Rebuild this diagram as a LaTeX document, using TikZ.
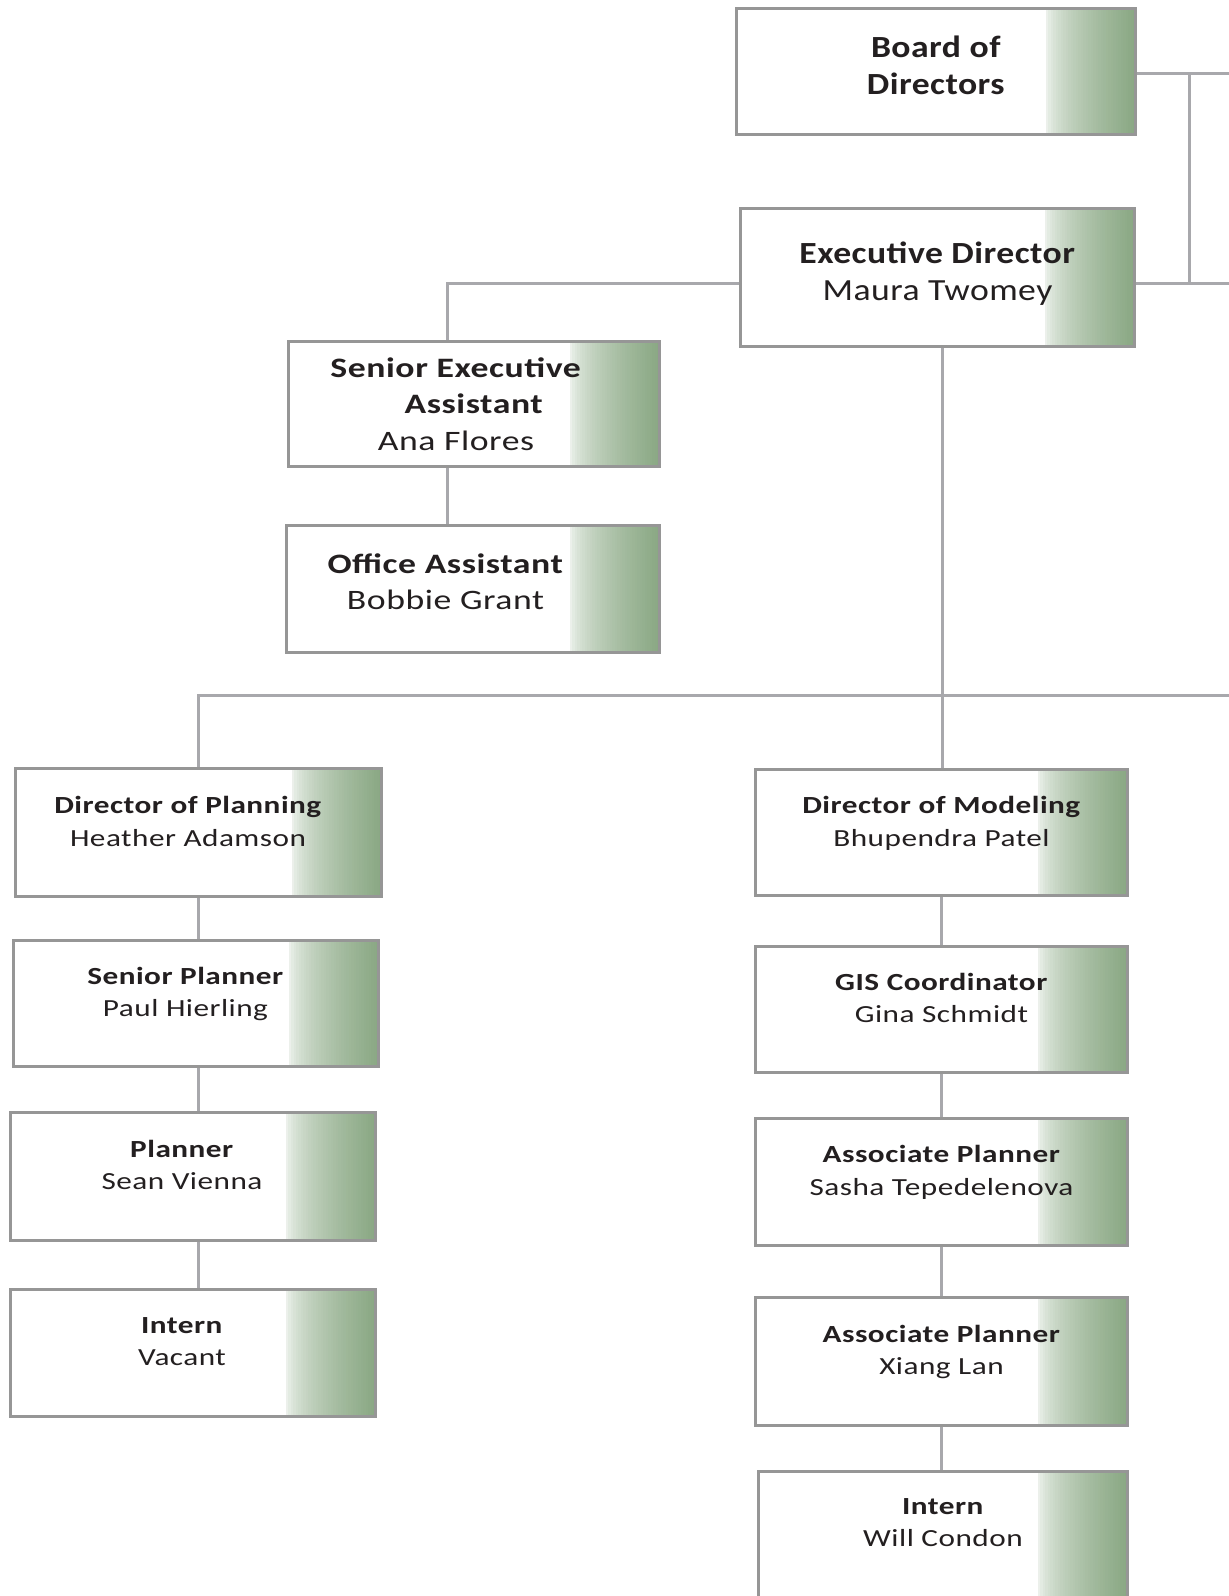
\documentclass[tikz,border=0pt]{standalone}
\usepackage{fontspec}
\setmainfont{Carlito}
\newfontfamily\widefont{Carlito}[FakeStretch=1.27,LetterSpace=2]
\newfontfamily\topfont{Carlito}[FakeStretch=1.16,LetterSpace=1.5]
\definecolor{boxgray}{RGB}{150,150,150}
\definecolor{linegray}{RGB}{168,168,172}
\definecolor{boxgreen}{RGB}{138,168,132}
\definecolor{inkgray}{RGB}{35,31,32}

\begin{document}
\begin{tikzpicture}[x=0.02cm,y=-0.02cm]
    \tikzstyle{post}=[draw=boxgray, line width=0.06cm, fill=white, align=center,
      text=inkgray, inner sep=0pt,
      path picture={
        \foreach \i [evaluate=\i as \p using {100*sqrt(\i/36)}] in {0,...,36}
          \fill[boxgreen!\p!white]
            ([xshift={(\i-37)*0.05cm}]path picture bounding box.north east)
            rectangle ([xshift={(\i-35.8)*0.05cm}]path picture bounding box.south east);}]
    \tikzstyle{top}=[post, font=\topfont\fontsize{17.5}{21.5}\selectfont, text depth=0.25cm]
    \tikzstyle{mid}=[post, font=\widefont\fontsize{16}{20.7}\selectfont]
    \tikzstyle{low}=[post, font=\widefont\fontsize{14}{18.4}\selectfont, text depth=0.45cm]
    \tikzstyle{link}=[draw=linegray, line width=0.06cm]
    \useasboundingbox (0,0) rectangle (1228,1596);

    % top of the chart
    \node[top, minimum width=8cm, minimum height=2.54cm] (board) at (936,71.5)
      {\textbf{Board of}\\\textbf{Directors}};
    \node[top, minimum width=7.9cm, minimum height=2.78cm] (exec) at (937.5,277.5)
      {\textbf{Executive Director}\\Maura Twomey};
    \node[mid, minimum width=7.44cm, minimum height=2.52cm] (sea) at (474,404)
      {\textbf{Senior Executive}\hspace*{0.72cm}\\\textbf{Assistant}\hspace*{0.72cm}\\Ana Flores\hspace*{0.72cm}};
    \node[mid, minimum width=7.48cm, minimum height=2.56cm, text depth=0.3cm] (office) at (473,589)
      {\textbf{Office Assistant}\hspace*{1.1cm}\\Bobbie Grant\hspace*{1.1cm}};

    % planning
    \node[low, minimum width=7.34cm, minimum height=2.58cm] (dp) at (198.5,832.5)
      {\textbf{Director of Planning}\hspace*{0.42cm}\\Heather Adamson\hspace*{0.42cm}};
    \node[low, minimum width=7.32cm, minimum height=2.52cm] (sp) at (196,1003)
      {\textbf{Senior Planner}\hspace*{0.42cm}\\Paul Hierling\hspace*{0.42cm}};
    \node[low, minimum width=7.32cm, minimum height=2.56cm] (planner) at (193,1176)
      {\textbf{Planner}\hspace*{0.44cm}\\Sean Vienna\hspace*{0.44cm}};
    \node[low, minimum width=7.32cm, minimum height=2.54cm] (internl) at (193,1352.5)
      {\textbf{Intern}\hspace*{0.44cm}\\Vacant\hspace*{0.44cm}};

    % modeling
    \node[low, minimum width=7.46cm, minimum height=2.54cm] (dm) at (941.5,832.5)
      {\textbf{Director of Modeling}\\Bhupendra Patel};
    \node[low, minimum width=7.46cm, minimum height=2.52cm] (gis) at (941.5,1009)
      {\textbf{GIS Coordinator}\\Gina Schmidt};
    \node[low, minimum width=7.46cm, minimum height=2.54cm] (ap1) at (941.5,1181.5)
      {\textbf{Associate Planner}\\Sasha Tepedelenova};
    \node[low, minimum width=7.46cm, minimum height=2.56cm] (ap2) at (941.5,1361)
      {\textbf{Associate Planner}\\Xiang Lan};
    \node[low, minimum width=7.4cm, minimum height=2.52cm] (internr) at (943,1534)
      {\textbf{Intern}\\Will Condon};

    % connectors
    \coordinate (spine) at (1189,73);
    \coordinate (asst) at (447,0);
    \coordinate (trunk) at (942,0);
    \coordinate (bd-out) at (1240,73);
    \coordinate (ed-out) at (1240,283);
    \coordinate (staff-out) at (1240,695);
    \draw[link] (board.east |- bd-out) -- (bd-out);
    \draw[link] (exec.east |- ed-out) -- (ed-out);
    \draw[link] (spine) -- (spine |- ed-out);
    \draw[link] (exec.west |- ed-out) -| (asst |- sea.north);
    \draw[link] (asst |- sea.south) -- (asst |- office.north);
    \draw[link] (trunk |- exec.south) -- (trunk |- dm.north);
    \draw[link] (dp.north) |- (staff-out);
    \draw[link] (dp.south) -- (dp.south |- sp.north);
    \draw[link] (dp.south |- sp.south) -- (dp.south |- planner.north);
    \draw[link] (dp.south |- planner.south) -- (dp.south |- internl.north);
    \draw[link] (dm.south) -- (dm.south |- gis.north);
    \draw[link] (dm.south |- gis.south) -- (dm.south |- ap1.north);
    \draw[link] (dm.south |- ap1.south) -- (dm.south |- ap2.north);
    \draw[link] (dm.south |- ap2.south) -- (dm.south |- internr.north);
\end{tikzpicture}
\end{document}
